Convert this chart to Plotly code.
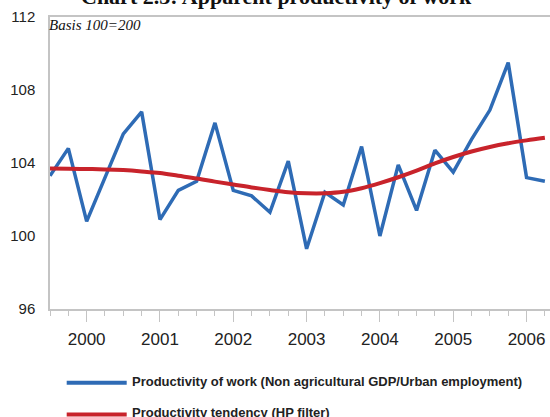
import plotly.graph_objects as go

quarter_index = list(range(28))
year_labels = ["2000", "2001", "2002", "2003", "2004", "2005", "2006"]
year_tick_positions = [2, 6, 10, 14, 18, 22, 26]

productivity = [103.3, 104.8, 100.8, 103.2, 105.6, 106.8, 100.9, 102.5,
                103.0, 106.2, 102.5, 102.2, 101.3, 104.1, 99.3, 102.4,
                101.7, 104.9, 100.0, 103.9, 101.4, 104.7, 103.5, 105.3,
                106.9, 109.5, 103.2, 103.0]
trend = [103.70, 103.69, 103.67, 103.65, 103.61, 103.54, 103.45, 103.30,
         103.15, 102.98, 102.82, 102.66, 102.52, 102.40, 102.34, 102.34,
         102.42, 102.62, 102.90, 103.22, 103.58, 103.98, 104.33, 104.63,
         104.88, 105.08, 105.24, 105.38]

BLUE = "#2E6BB5"
RED = "#C8232B"
AXIS = "#c4c4c4"
SANS = "Liberation Sans, Arial, sans-serif"
SERIF = "Liberation Serif, Times New Roman, serif"

fig = go.Figure()
fig.add_trace(go.Scatter(x=quarter_index, y=productivity, mode="lines",
                         line=dict(color=BLUE, width=3.5),
                         name="Productivity of work (Non agricultural GDP/Urban employment)"))
fig.add_trace(go.Scatter(x=quarter_index, y=trend, mode="lines",
                         line=dict(color=RED, width=4, shape="spline"),
                         name="Productivity tendency (HP filter)"))

W, H = 550, 417
PLOT_L, PLOT_T, PLOT_R, PLOT_B = 50, 17, 550, 309  # pixels
L, T, R, B = PLOT_L, PLOT_T, W - PLOT_R, H - PLOT_B
pw = PLOT_R - PLOT_L
ph = PLOT_B - PLOT_T

def px_x(x):
    return (x - PLOT_L) / pw

def px_y(y):
    return (PLOT_B - y) / ph

fig.update_layout(
    width=W, height=H,
    margin=dict(l=L, r=R, t=T, b=B, autoexpand=False),
    paper_bgcolor="white", plot_bgcolor="white",
    showlegend=False,
    xaxis=dict(range=[0, 27.28], showgrid=False, zeroline=False, automargin=False,
               showline=True, linecolor=AXIS, linewidth=1.5, mirror=True,
               tickmode="array", tickvals=year_tick_positions, ticktext=year_labels,
               ticks="outside", ticklen=11, tickcolor=AXIS, tickwidth=1,
               ticklabelstandoff=3,
               minor=dict(dtick=1, tick0=0, ticks="outside", ticklen=5,
                          tickcolor=AXIS, tickwidth=1, showgrid=False),
               tickfont=dict(family=SANS, size=17, color="#222222")),
    yaxis=dict(range=[96, 112], showgrid=False, zeroline=False, automargin=False,
               showline=True, linecolor=AXIS, linewidth=1.5,
               tickmode="array", tickvals=[96, 100, 104, 108, 112],
               ticks="", ticklabelstandoff=10,
               tickfont=dict(family=SANS, size=15, color="#222222")),
)

annotations = [
    dict(text="<b>Chart 2.3: Apparent productivity of work</b>", xref="paper", yref="paper",
         x=px_x(276), y=px_y(11), xanchor="center", yanchor="bottom", showarrow=False,
         font=dict(family=SERIF, size=22, color="#111111")),
    dict(text="<i>Basis 100=200</i>", xref="paper", yref="paper",
         x=px_x(47), y=px_y(25.5), xanchor="left", yanchor="middle", showarrow=False,
         font=dict(family=SERIF, size=15, color="#111111")),
    dict(text="<b>Productivity of work (Non agricultural GDP/Urban employment)</b>",
         xref="paper", yref="paper", x=px_x(130), y=px_y(381.5), xanchor="left",
         yanchor="middle", showarrow=False, font=dict(family=SANS, size=13, color="#222222")),
    dict(text="<b>Productivity tendency (HP filter)</b>",
         xref="paper", yref="paper", x=px_x(130), y=px_y(412.5), xanchor="left",
         yanchor="middle", showarrow=False, font=dict(family=SANS, size=13, color="#222222")),
]
shapes = [
    dict(type="line", xref="paper", yref="paper", x0=px_x(66.7), x1=px_x(126.7),
         y0=px_y(382.7), y1=px_y(382.7), line=dict(color=BLUE, width=4)),
    dict(type="line", xref="paper", yref="paper", x0=px_x(66.7), x1=px_x(126.7),
         y0=px_y(414.5), y1=px_y(414.5), line=dict(color=RED, width=4)),
]
fig.update_layout(annotations=annotations, shapes=shapes)

fig.write_html("out.html", config={"displayModeBar": False},
               post_script="document.body.style.margin='0';document.body.style.overflow='hidden';")
